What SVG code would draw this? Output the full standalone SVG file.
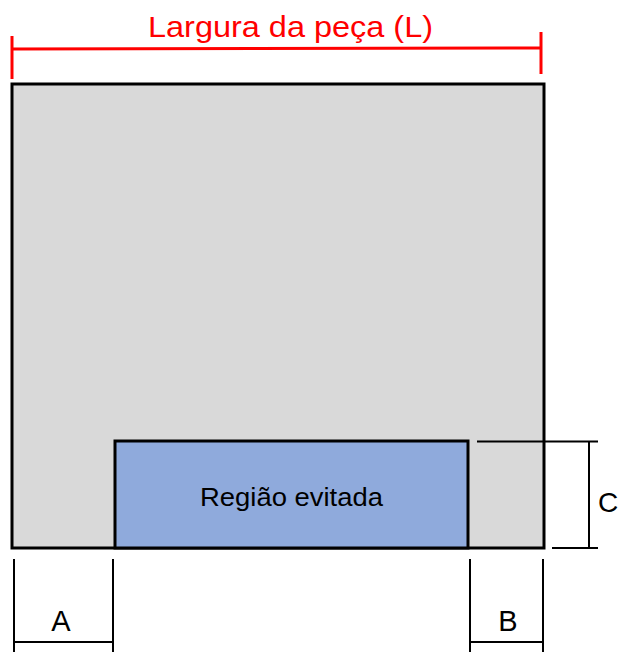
<svg xmlns="http://www.w3.org/2000/svg" width="620" height="652" viewBox="0 0 620 652">
<style>
.dim{stroke:#000;stroke-width:2;fill:none}
.lbl{font-family:"Liberation Sans",Arial,sans-serif;fill:#000}
</style>
<rect width="620" height="652" fill="#fff"/>
<g id="peca">
<rect x="12" y="84" width="532" height="464" fill="#d9d9d9" stroke="#000" stroke-width="3"/>
</g>
<g id="regiao">
<rect x="115" y="441" width="353" height="107" fill="#8faadc" stroke="#000" stroke-width="3"/>
<text class="lbl" x="200" y="506" font-size="26" textLength="183" lengthAdjust="spacingAndGlyphs">Região evitada</text>
</g>
<g id="connectors">
<g stroke="#ff0000" stroke-width="3" fill="none">
<line x1="12" y1="49" x2="541" y2="48"/>
<line x1="12" y1="36" x2="12" y2="79"/>
<line x1="541" y1="32" x2="541" y2="74"/>
</g>
<line class="dim" x1="477" y1="441.5" x2="598" y2="441.5"/>
<line class="dim" x1="552" y1="548" x2="598" y2="548"/>
<line class="dim" x1="589" y1="441.5" x2="589" y2="548"/>
<line class="dim" x1="14" y1="559" x2="14" y2="652"/>
<line class="dim" x1="113" y1="559" x2="113" y2="652"/>
<line class="dim" x1="14" y1="642" x2="113" y2="642"/>
<line class="dim" x1="470" y1="559" x2="470" y2="652"/>
<line class="dim" x1="543" y1="559" x2="543" y2="652"/>
<line class="dim" x1="470" y1="642" x2="543" y2="642"/>
</g>
<g id="labels">
<text x="148" y="37" font-size="30" textLength="285" lengthAdjust="spacingAndGlyphs" fill="#ff0000" font-family="Liberation Sans, Arial, sans-serif">Largura da peça (L)</text>
<text class="lbl" x="61" y="631" font-size="29" text-anchor="middle">A</text>
<text class="lbl" x="508" y="631" font-size="29" text-anchor="middle">B</text>
<text class="lbl" x="608" y="512" font-size="28" text-anchor="middle">C</text>
</g>
</svg>
